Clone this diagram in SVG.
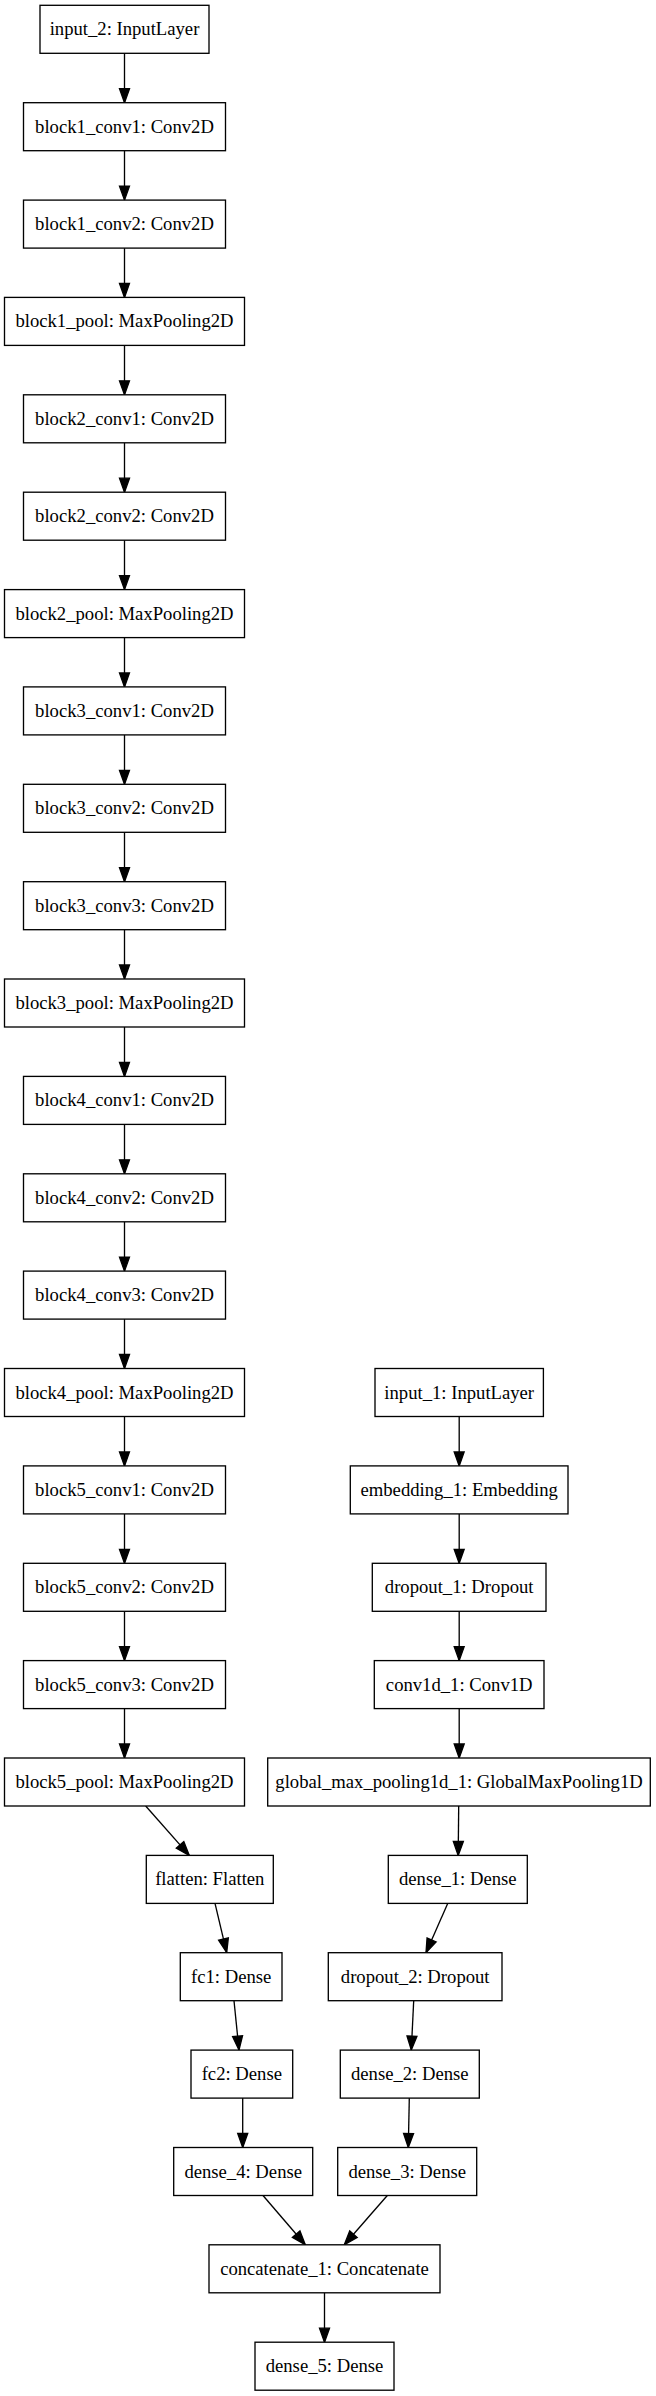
<svg xmlns="http://www.w3.org/2000/svg" width="656" height="2396" viewBox="0 0 656 2396">
<style>
.n rect{fill:#fff;stroke:#000;stroke-width:1.33}
.n text{font-family:"Liberation Serif","Times New Roman",serif;font-size:18.67px;fill:#000;text-anchor:middle}
.e line{stroke:#000;stroke-width:1.33;fill:none;marker-end:url(#arr)}
</style>
<defs>
<marker id="arr" markerUnits="userSpaceOnUse" markerWidth="16" markerHeight="12" refX="14" refY="5" orient="auto" overflow="visible">
<path d="M0,0 L14,5 L0,10 z" fill="#000" stroke="#000" stroke-width="1.33"/>
</marker>
</defs>
<rect width="656" height="2396" fill="#fff"/>
<g id="connectors" class="e">
<line x1="124.5" y1="53.3" x2="124.5" y2="102.7"/>
<line x1="124.5" y1="150.7" x2="124.5" y2="200.1"/>
<line x1="124.5" y1="248.1" x2="124.5" y2="297.4"/>
<line x1="124.5" y1="345.4" x2="124.5" y2="394.8"/>
<line x1="124.5" y1="442.8" x2="124.5" y2="492.2"/>
<line x1="124.5" y1="540.2" x2="124.5" y2="589.6"/>
<line x1="124.5" y1="637.6" x2="124.5" y2="686.9"/>
<line x1="124.5" y1="734.9" x2="124.5" y2="784.3"/>
<line x1="124.5" y1="832.3" x2="124.5" y2="881.7"/>
<line x1="124.5" y1="929.7" x2="124.5" y2="979.0"/>
<line x1="124.5" y1="1027.0" x2="124.5" y2="1076.4"/>
<line x1="124.5" y1="1124.4" x2="124.5" y2="1173.8"/>
<line x1="124.5" y1="1221.8" x2="124.5" y2="1271.1"/>
<line x1="124.5" y1="1319.1" x2="124.5" y2="1368.5"/>
<line x1="124.5" y1="1416.5" x2="124.5" y2="1465.9"/>
<line x1="124.5" y1="1513.9" x2="124.5" y2="1563.3"/>
<line x1="124.5" y1="1611.3" x2="124.5" y2="1660.6"/>
<line x1="124.5" y1="1708.6" x2="124.5" y2="1758.0"/>
<line x1="145.7" y1="1806.0" x2="189.3" y2="1855.4"/>
<line x1="215.0" y1="1903.4" x2="226.7" y2="1952.7"/>
<line x1="234.0" y1="2000.7" x2="239.0" y2="2050.1"/>
<line x1="242.7" y1="2098.1" x2="242.7" y2="2147.5"/>
<line x1="263.0" y1="2195.5" x2="305.3" y2="2244.8"/>
<line x1="387.3" y1="2195.5" x2="344.3" y2="2244.8"/>
<line x1="324.5" y1="2292.8" x2="324.5" y2="2342.2"/>
<line x1="459.2" y1="1416.5" x2="459.2" y2="1465.9"/>
<line x1="459.2" y1="1513.9" x2="459.2" y2="1563.3"/>
<line x1="459.2" y1="1611.3" x2="459.2" y2="1660.6"/>
<line x1="459.2" y1="1708.6" x2="459.2" y2="1758.0"/>
<line x1="458.7" y1="1806.0" x2="458.2" y2="1855.4"/>
<line x1="447.7" y1="1903.4" x2="426.0" y2="1952.7"/>
<line x1="413.7" y1="2000.7" x2="411.3" y2="2050.1"/>
<line x1="409.3" y1="2098.1" x2="408.3" y2="2147.5"/>
</g>
<g id="input_2" class="n"><rect x="40" y="5.3" width="169" height="48"/><text x="124.5" y="35.3">input_2: InputLayer</text></g>
<g id="block1_conv1" class="n"><rect x="23.5" y="102.7" width="202" height="48"/><text x="124.5" y="132.7">block1_conv1: Conv2D</text></g>
<g id="block1_conv2" class="n"><rect x="23.5" y="200.1" width="202" height="48"/><text x="124.5" y="230.1">block1_conv2: Conv2D</text></g>
<g id="block1_pool" class="n"><rect x="4.5" y="297.4" width="240" height="48"/><text x="124.5" y="327.4">block1_pool: MaxPooling2D</text></g>
<g id="block2_conv1" class="n"><rect x="23.5" y="394.8" width="202" height="48"/><text x="124.5" y="424.8">block2_conv1: Conv2D</text></g>
<g id="block2_conv2" class="n"><rect x="23.5" y="492.2" width="202" height="48"/><text x="124.5" y="522.2">block2_conv2: Conv2D</text></g>
<g id="block2_pool" class="n"><rect x="4.5" y="589.6" width="240" height="48"/><text x="124.5" y="619.6">block2_pool: MaxPooling2D</text></g>
<g id="block3_conv1" class="n"><rect x="23.5" y="686.9" width="202" height="48"/><text x="124.5" y="716.9">block3_conv1: Conv2D</text></g>
<g id="block3_conv2" class="n"><rect x="23.5" y="784.3" width="202" height="48"/><text x="124.5" y="814.3">block3_conv2: Conv2D</text></g>
<g id="block3_conv3" class="n"><rect x="23.5" y="881.7" width="202" height="48"/><text x="124.5" y="911.7">block3_conv3: Conv2D</text></g>
<g id="block3_pool" class="n"><rect x="4.5" y="979.0" width="240" height="48"/><text x="124.5" y="1009.0">block3_pool: MaxPooling2D</text></g>
<g id="block4_conv1" class="n"><rect x="23.5" y="1076.4" width="202" height="48"/><text x="124.5" y="1106.4">block4_conv1: Conv2D</text></g>
<g id="block4_conv2" class="n"><rect x="23.5" y="1173.8" width="202" height="48"/><text x="124.5" y="1203.8">block4_conv2: Conv2D</text></g>
<g id="block4_conv3" class="n"><rect x="23.5" y="1271.1" width="202" height="48"/><text x="124.5" y="1301.1">block4_conv3: Conv2D</text></g>
<g id="block4_pool" class="n"><rect x="4.5" y="1368.5" width="240" height="48"/><text x="124.5" y="1398.5">block4_pool: MaxPooling2D</text></g>
<g id="block5_conv1" class="n"><rect x="23.5" y="1465.9" width="202" height="48"/><text x="124.5" y="1495.9">block5_conv1: Conv2D</text></g>
<g id="block5_conv2" class="n"><rect x="23.5" y="1563.3" width="202" height="48"/><text x="124.5" y="1593.3">block5_conv2: Conv2D</text></g>
<g id="block5_conv3" class="n"><rect x="23.5" y="1660.6" width="202" height="48"/><text x="124.5" y="1690.6">block5_conv3: Conv2D</text></g>
<g id="block5_pool" class="n"><rect x="4.5" y="1758.0" width="240" height="48"/><text x="124.5" y="1788.0">block5_pool: MaxPooling2D</text></g>
<g id="flatten" class="n"><rect x="146.3" y="1855.4" width="127" height="48"/><text x="209.8" y="1885.4">flatten: Flatten</text></g>
<g id="fc1" class="n"><rect x="180.3" y="1952.7" width="101.7" height="48"/><text x="231.2" y="1982.7">fc1: Dense</text></g>
<g id="fc2" class="n"><rect x="191" y="2050.1" width="101.7" height="48"/><text x="241.8" y="2080.1">fc2: Dense</text></g>
<g id="dense_4" class="n"><rect x="173.7" y="2147.5" width="139" height="48"/><text x="243.2" y="2177.5">dense_4: Dense</text></g>
<g id="concatenate_1" class="n"><rect x="209" y="2244.8" width="231" height="48"/><text x="324.5" y="2274.8">concatenate_1: Concatenate</text></g>
<g id="dense_5" class="n"><rect x="255" y="2342.2" width="139" height="48"/><text x="324.5" y="2372.2">dense_5: Dense</text></g>
<g id="input_1" class="n"><rect x="375" y="1368.5" width="168.4" height="48"/><text x="459.2" y="1398.5">input_1: InputLayer</text></g>
<g id="embedding_1" class="n"><rect x="350.3" y="1465.9" width="217.7" height="48"/><text x="459.2" y="1495.9">embedding_1: Embedding</text></g>
<g id="dropout_1" class="n"><rect x="372.3" y="1563.3" width="173.7" height="48"/><text x="459.2" y="1593.3">dropout_1: Dropout</text></g>
<g id="conv1d_1" class="n"><rect x="374.3" y="1660.6" width="169.7" height="48"/><text x="459.2" y="1690.6">conv1d_1: Conv1D</text></g>
<g id="global_max_pooling1d_1" class="n"><rect x="267.7" y="1758.0" width="382.6" height="48"/><text x="459" y="1788.0">global_max_pooling1d_1: GlobalMaxPooling1D</text></g>
<g id="dense_1" class="n"><rect x="388.3" y="1855.4" width="139" height="48"/><text x="457.8" y="1885.4">dense_1: Dense</text></g>
<g id="dropout_2" class="n"><rect x="328.3" y="1952.7" width="173.7" height="48"/><text x="415.2" y="1982.7">dropout_2: Dropout</text></g>
<g id="dense_2" class="n"><rect x="340.3" y="2050.1" width="139" height="48"/><text x="409.8" y="2080.1">dense_2: Dense</text></g>
<g id="dense_3" class="n"><rect x="337.7" y="2147.5" width="139" height="48"/><text x="407.2" y="2177.5">dense_3: Dense</text></g>
</svg>
